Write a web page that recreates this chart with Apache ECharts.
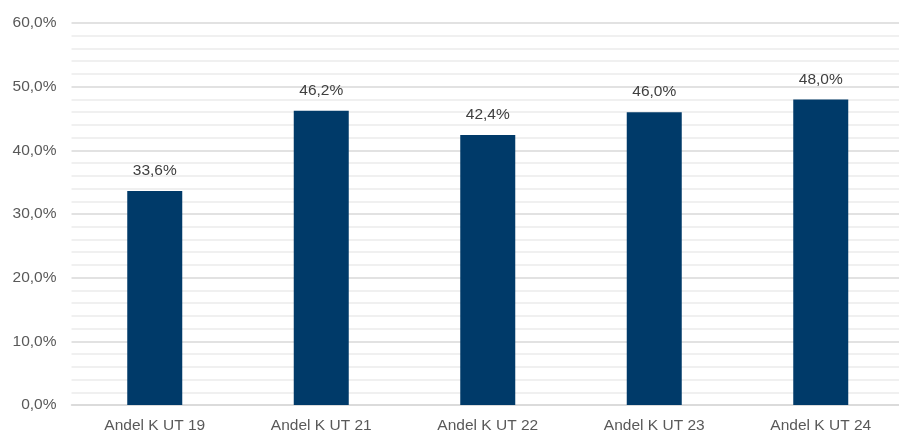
<!DOCTYPE html>
<html><head><meta charset="utf-8">
<script src="https://cdn.jsdelivr.net/npm/echarts@6/dist/echarts.min.js"></script>
<style>html,body{margin:0;padding:0;background:#fff;overflow:hidden}#c{width:904px;height:434px}</style>
</head><body><div id="c"></div>
<script>
const categories = ["Andel K UT 19","Andel K UT 21","Andel K UT 22","Andel K UT 23","Andel K UT 24"];
const values = [33.6, 46.2, 42.4, 46.0, 48.0];
const fmt = v => v.toFixed(1).replace('.', ',') + '%';
const FF = 'Liberation Sans, Arial, sans-serif';
const chart = echarts.init(document.getElementById('c'));
chart.setOption({
  animation:false,
  textStyle:{fontFamily:FF},
  grid:{left:71.5, top:23, right:0, height:384, containLabel:false},
  xAxis:{type:'category', data:categories,
    axisLine:{show:true, lineStyle:{color:'#d9d9d9', width:1.5}},
    axisTick:{show:false},
    axisLabel:{color:'#595959', fontSize:15.5, margin:13, fontFamily:FF}},
  yAxis:{type:'value', min:0, max:60, interval:10,
    axisLine:{show:false}, axisTick:{show:false},
    axisLabel:{color:'#595959', fontSize:15.5, margin:15, formatter:v=>fmt(v), fontFamily:FF},
    splitLine:{lineStyle:{color:'#d9d9d9', width:1.5}},
    minorTick:{show:false, splitNumber:5},
    minorSplitLine:{show:true, lineStyle:{color:'#ececec', width:1.5}}},
  series:[{type:'bar', data:values, barWidth:55,
    itemStyle:{color:'#003A69'},
    label:{show:true, position:'top', distance:12, color:'#404040', fontSize:15.5,
      fontFamily:FF, formatter:p=>fmt(p.value)}}]
});
</script></body></html>
